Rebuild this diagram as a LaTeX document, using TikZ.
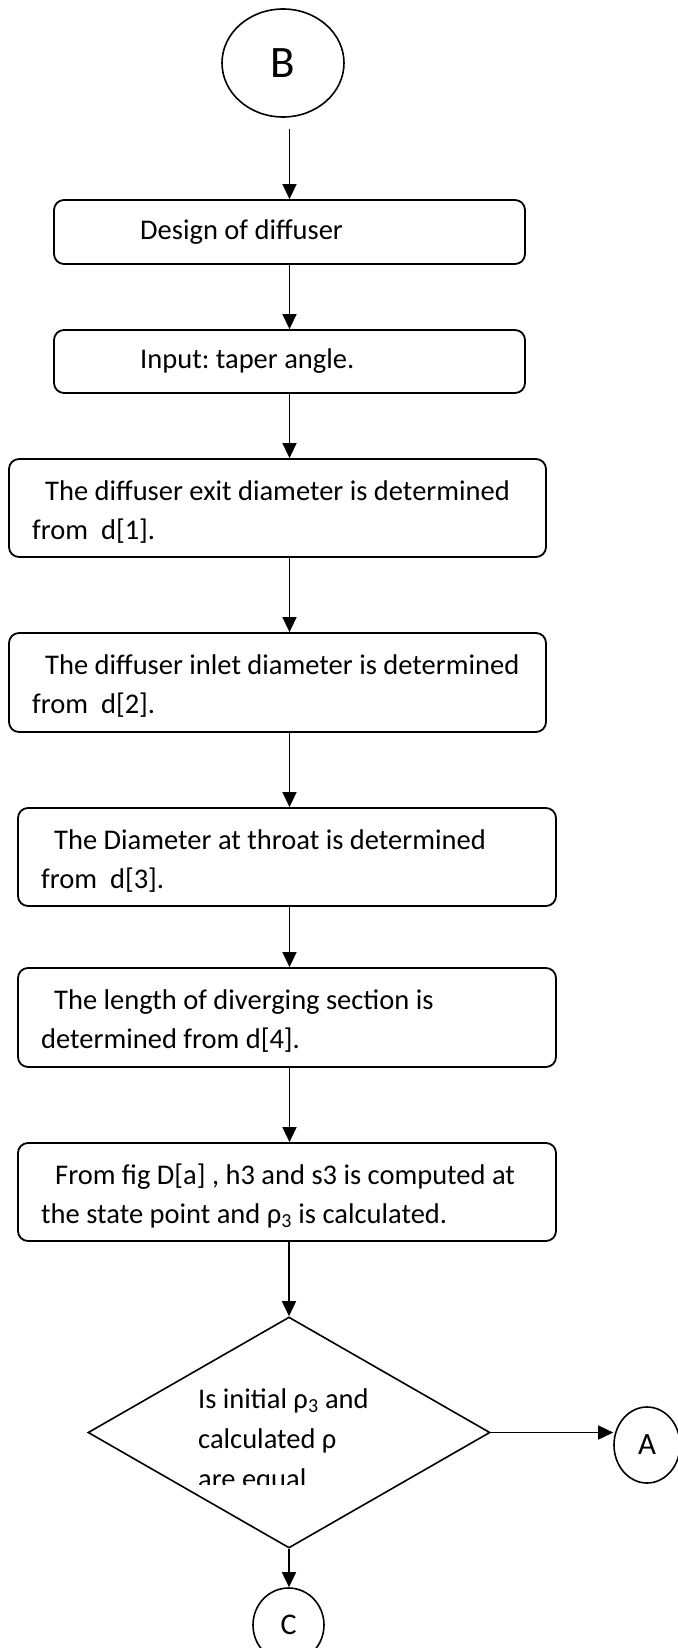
\documentclass[tikz,border=0pt]{standalone}
\usepackage{fontspec}
\setmainfont{Carlito}
\frenchspacing
\usetikzlibrary{shapes.geometric,arrows.meta,calc}
\begin{document}
\begin{tikzpicture}[x=1pt,y=-1pt,
  every node/.style={inner sep=0pt},
  pbox/.style={draw,line width=1.8pt,rounded corners=10pt},
  term/.style={draw,ellipse,line width=1.6pt},
  conn/.style={line width=1.5pt,-{Triangle[length=15pt,width=14pt]}},
  txt/.style={anchor=base west,font=\fontsize{28.5}{40}\selectfont}]
\useasboundingbox (0,0) rectangle (677,1648);

% terminals
\node[term,minimum width=122pt,minimum height=108pt,font=\fontsize{45}{54}\selectfont] (B) at (283,63) {B};

% process boxes
\node[pbox,minimum width=471pt,minimum height=64pt] (b1) at (289.5,232) {};
\node[pbox,minimum width=471pt,minimum height=63pt] (b2) at (289.5,361.5) {};
\node[pbox,minimum width=537pt,minimum height=98pt] (b3) at (277.5,508) {};
\node[pbox,minimum width=537pt,minimum height=99pt] (b4) at (277.5,682.5) {};
\node[pbox,minimum width=538pt,minimum height=98pt] (b5) at (287,857) {};
\node[pbox,minimum width=538pt,minimum height=99pt] (b6) at (287,1017.5) {};
\node[pbox,minimum width=538pt,minimum height=98pt] (b7) at (287,1192) {};

% decision
\node[diamond,draw,line width=1.6pt,minimum width=402pt,minimum height=231pt] (d) at (289,1432.5) {};

\node[term,minimum width=66pt,minimum height=76pt,font=\fontsize{31}{36}\selectfont] (A) at (647,1445) {A};
\node[term,minimum width=71pt,minimum height=74pt,font=\fontsize{30}{36}\selectfont] (C) at (288.5,1625) {C};

% texts
\node[txt] (t1) at (140,239) {Design of diffuser};
\node[txt] (t2) at (140,368) {Input: taper angle.};
\node[txt] (t3a) at (45,500) {The diffuser exit diameter is determined};
\node[txt] (t3b) at (32,539) {from\ \ d[1].};
\node[txt] (t4a) at (45,674) {The diffuser inlet diameter is determined};
\node[txt] (t4b) at (32,713) {from\ \ d[2].};
\node[txt] (t5a) at (54,849) {The Diameter at throat is determined};
\node[txt] (t5b) at (41,888) {from\ \ d[3].};
\node[txt] (t6a) at (54,1009) {The length of diverging section is};
\node[txt] (t6b) at (41,1048) {determined from d[4].};
\node[txt] (t7a) at (55,1184) {From fig D[a] , h3 and s3 is computed at};
\node[txt] (t7b) at (41,1223) {the state point and ρ\textsubscript{3} is calculated.};
\node[txt] (d1) at (198,1408) {Is initial ρ\textsubscript{3} and};
\node[txt] (d2) at (198,1448) {calculated ρ};
\begin{scope}
\clip (0,0) rectangle (677,1484);
\node[txt] (d3) at (198,1488) {are equal};
\end{scope}

% connectors
\draw[conn] ([yshift=-11pt]B.south -| b1.north) -- (b1.north);
\draw[conn] (b1.south) -- (b2.north);
\draw[conn] (b2.south) -- (b2.south |- b3.north);
\draw[conn] (b2.south |- b3.south) -- (b2.south |- b4.north);
\draw[conn] (b2.south |- b4.south) -- (b2.south |- b5.north);
\draw[conn] (b2.south |- b5.south) -- (b2.south |- b6.north);
\draw[conn] (b2.south |- b6.south) -- (b2.south |- b7.north);
\draw[conn] (d.north |- b7.south) -- (d.north);
\draw[conn] (d.east) -- (d.east -| A.west);
\draw[conn] (d.south) -- (d.south |- C.north);
\end{tikzpicture}
\end{document}
